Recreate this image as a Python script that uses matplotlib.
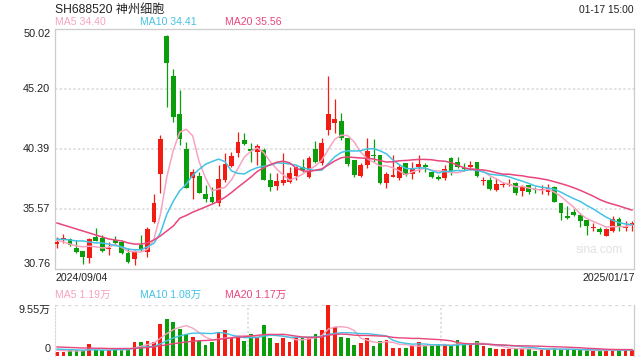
"""
SH688520 daily K-line with MA5/MA10/MA20 and volume panel.
"""

import numpy as np
import pandas as pd
import matplotlib
matplotlib.use("Agg")
import matplotlib.pyplot as plt

# ── Config ──────────────────────────────────────────────────────────────
RED = "#f21c12"
GREEN = "#0b9e0b"
MA5_C = "#f7a3c1"
MA10_C = "#43c3e4"
MA20_C = "#e8467c"
GRID = "#d9d9d9"
BORDER = "#cccccc"
TEXT = "#222222"

plt.rcParams["font.family"] = ["Liberation Sans", "Noto Sans CJK SC", "DejaVu Sans"]

# ── Data ────────────────────────────────────────────────────────────────
title = "SH688520 神州细胞"
stamp = "01-17 15:00"
date_first = "2024/09/04"
date_last = "2025/01/17"

opens = [32.76, 33.09, 33.17, 32.44, 32.20, 31.64, 33.33, 33.25, 32.36, 33.09,
         32.93, 32.04, 31.56, 32.68, 32.12, 34.53, 38.38, 49.46, 46.25, 43.20,
         40.39, 38.06, 38.22, 36.78, 36.54, 36.06, 37.90, 39.03, 40.07, 41.11,
         40.39, 40.15, 40.31, 37.90, 37.42, 37.66, 37.74, 38.22, 38.94, 38.14,
         40.39, 39.27, 41.91, 42.48, 42.64, 41.27, 39.51, 38.22, 39.11, 39.91,
         39.91, 37.66, 38.14, 38.06, 39.27, 38.38, 38.94, 39.11, 38.54, 38.14,
         38.06, 39.67, 39.35, 38.86, 38.94, 39.35, 37.82, 37.90, 37.10, 37.50,
         37.50, 37.66, 37.02, 37.50, 37.18, 37.10, 36.94, 37.34, 36.06, 35.01,
         35.33, 35.09, 34.69, 34.05, 33.97, 33.41, 33.81, 34.77, 34.05, 34.29]
highs = [33.33, 33.57, 33.25, 33.09, 32.20, 33.25, 34.05, 33.49, 32.93, 33.41,
         33.09, 32.44, 32.28, 33.49, 34.13, 36.78, 41.51, 49.54, 46.81, 45.12,
         40.95, 38.78, 38.54, 37.50, 37.34, 39.11, 40.07, 40.15, 41.75, 41.67,
         40.87, 40.79, 40.47, 38.46, 38.46, 40.07, 38.94, 39.03, 39.59, 39.83,
         41.03, 41.27, 46.25, 44.40, 43.28, 41.27, 39.51, 39.27, 41.27, 41.19,
         39.91, 38.54, 39.91, 39.11, 39.27, 39.35, 39.91, 39.27, 38.54, 38.30,
         39.11, 39.75, 39.75, 39.27, 39.43, 39.35, 38.14, 38.14, 38.06, 37.74,
         37.98, 37.74, 37.50, 37.50, 37.34, 37.50, 37.58, 37.42, 36.06, 35.81,
         35.57, 35.25, 34.69, 34.45, 34.13, 34.05, 35.01, 34.93, 34.61, 34.61]
lows = [32.44, 32.85, 32.60, 32.04, 31.16, 31.24, 33.01, 32.12, 31.88, 32.68,
        31.96, 31.24, 31.08, 32.20, 31.72, 34.45, 36.86, 43.76, 42.56, 40.71,
        37.26, 36.38, 36.86, 36.14, 36.06, 35.81, 37.74, 38.94, 39.75, 40.71,
        39.35, 39.11, 37.90, 37.02, 37.10, 37.50, 37.66, 37.90, 38.54, 38.06,
        39.27, 39.11, 41.51, 41.67, 41.11, 39.03, 38.14, 38.14, 38.86, 39.35,
        37.58, 37.26, 38.14, 37.90, 38.22, 37.98, 38.54, 38.54, 38.06, 37.90,
        37.90, 38.30, 38.86, 38.62, 38.70, 38.14, 37.50, 37.10, 37.02, 37.34,
        37.42, 36.70, 36.62, 36.78, 36.86, 36.78, 36.70, 36.14, 34.69, 34.77,
        35.01, 34.13, 33.49, 33.81, 33.57, 33.41, 33.73, 33.81, 33.81, 33.81]
closes = [32.93, 33.25, 32.68, 32.12, 31.72, 33.17, 33.01, 32.20, 32.44, 32.85,
          32.04, 31.32, 32.12, 32.28, 33.97, 36.06, 41.19, 47.29, 42.96, 41.19,
          37.26, 38.54, 36.86, 36.38, 36.14, 37.98, 39.19, 39.83, 40.95, 40.79,
          40.23, 40.63, 37.90, 37.34, 37.82, 37.90, 38.46, 38.94, 38.70, 39.67,
          39.35, 40.87, 43.20, 42.80, 41.27, 39.19, 38.30, 39.11, 40.23, 39.83,
          37.66, 38.38, 38.30, 38.94, 38.30, 38.86, 39.19, 38.94, 38.14, 37.98,
          38.78, 38.62, 38.94, 38.78, 39.11, 38.22, 37.90, 37.18, 37.58, 37.58,
          37.58, 36.86, 37.34, 36.94, 37.10, 37.18, 37.26, 36.14, 35.25, 34.85,
          35.09, 34.61, 34.21, 34.13, 33.73, 33.97, 34.77, 34.21, 34.13, 34.45]
# volume in 万 (10k) shares
volumes = [0.83, 0.83, 1.08, 1.08, 1.08, 2.23, 1.15, 1.15, 1.15, 1.15,
           1.15, 1.40, 2.67, 2.67, 2.87, 2.55, 5.92, 7.00, 6.37, 4.97,
           4.14, 3.63, 2.87, 2.04, 2.55, 4.58, 4.78, 3.37, 3.63, 2.87,
           4.14, 3.63, 5.73, 3.37, 2.36, 3.37, 2.55, 3.50, 3.37, 3.37,
           4.14, 4.78, 9.55, 5.35, 3.63, 3.37, 2.04, 2.36, 3.37, 1.91,
           2.87, 2.99, 1.59, 1.59, 1.59, 1.91, 2.55, 2.04, 1.91, 2.04,
           2.23, 2.04, 2.99, 2.04, 2.04, 2.87, 1.91, 1.59, 1.27, 1.27,
           1.40, 1.40, 1.40, 1.27, 0.95, 1.27, 1.27, 1.59, 1.15, 1.15,
           1.08, 1.08, 1.08, 0.95, 0.95, 1.20, 1.25, 1.15, 1.20, 1.15]

# MA values at the left edge (they include days before the visible window)
ma5_head = [33.09, 32.93, 32.76, 32.60]
ma10_head = [33.17, 33.13, 33.09, 33.01, 33.01, 32.93, 32.85, 32.85, 32.76]
ma20_head = [34.45, 34.29, 34.13, 33.97, 33.81, 33.65, 33.49, 33.33, 33.17, 33.09,
             33.01, 32.85, 32.76, 32.76, 32.85, 33.09, 33.41, 33.81, 34.21]
vma5_head = [1.10, 1.00, 0.95, 0.95]
vma10_head = [1.30, 1.25, 1.20, 1.15, 1.10, 1.15, 1.15, 1.10, 1.10]
vma20_head = [1.70, 1.65, 1.60, 1.55, 1.50, 1.50, 1.45, 1.45, 1.40, 1.40,
              1.40, 1.40, 1.45, 1.50, 1.60, 1.70, 1.90, 2.10, 2.30]

price_ticks = [30.76, 35.57, 40.39, 45.20, 50.02]
vol_max = 9.55
ma_labels = ["MA5 34.40", "MA10 34.41", "MA20 35.56"]
vma_labels = ["MA5 1.19万", "MA10 1.08万", "MA20 1.17万"]


def moving_avg(values, n, head):
    s = pd.Series(values, dtype=float).rolling(n).mean()
    s.iloc[:len(head)] = head
    return s.values


o = np.array(opens)
c = np.array(closes)
x = np.arange(len(o))
up = c >= o
colors = np.where(up, RED, GREEN)

# ── Figure ──────────────────────────────────────────────────────────────
W, H = 640, 360
fig = plt.figure(figsize=(6.4, 3.6), dpi=100)
fig.patch.set_facecolor("white")


def fx(px):
    return px / W


def fy(py):
    return 1 - py / H


ax = fig.add_axes([fx(55), fy(269), fx(634) - fx(55), fy(29) - fy(269)])
vax = fig.add_axes([fx(55), fy(356), fx(634) - fx(55), fy(305) - fy(356)])

# ── Price panel ─────────────────────────────────────────────────────────
for t in price_ticks[1:-1]:
    ax.axhline(t, color=GRID, lw=1.1, ls=(0, (1.5, 1.5)), zorder=0)

body_lo = np.minimum(o, c)
body_h = np.maximum(np.abs(c - o), 0.08)
ax.vlines(x, lows, highs, colors=colors, lw=0.9, zorder=2)
ax.bar(x, body_h, bottom=body_lo, width=0.74, color=colors, linewidth=0, zorder=3)

ax.plot(x, moving_avg(closes, 5, ma5_head), color=MA5_C, lw=1.1, zorder=4)
ax.plot(x, moving_avg(closes, 10, ma10_head), color=MA10_C, lw=1.1, zorder=4)
ax.plot(x, moving_avg(closes, 20, ma20_head), color=MA20_C, lw=1.1, zorder=4)

ax.set_xlim(-0.31, len(x) - 1 + 0.31)
ax.set_ylim(price_ticks[0], price_ticks[-1])
ax.set_xticks([])
ax.set_yticks([])
for s in ax.spines.values():
    s.set_color(BORDER)
    s.set_linewidth(0.9)

ytr = ax.get_yaxis_transform()
for i, t in enumerate(price_ticks):
    va = "bottom" if i == 0 else ("top" if i == len(price_ticks) - 1 else "center")
    ax.text(-0.008, t, f"{t:.2f}", transform=ytr, ha="right", va=va,
            fontsize=7.8, color=TEXT)

ax.text(0.98, 0.055, "sina.com", transform=ax.transAxes, ha="right", va="bottom",
        fontsize=8.5, color="#e2e2e2")

# header texts
fig.text(fx(55), fy(10), title, ha="left", va="center", fontsize=8.7, color=TEXT)
fig.text(fx(634), fy(10), stamp, ha="right", va="center", fontsize=7.4, color=TEXT)
for lab, col, px in zip(ma_labels, [MA5_C, MA10_C, MA20_C], [55, 140, 225]):
    fig.text(fx(px), fy(22), lab, ha="left", va="center", fontsize=7.6, color=col)

# date labels
fig.text(fx(55), fy(278), date_first, ha="left", va="center", fontsize=7.6, color=TEXT)
fig.text(fx(635), fy(278), date_last, ha="right", va="center", fontsize=7.6, color=TEXT)

# ── Volume panel ────────────────────────────────────────────────────────
vax.bar(x, volumes, width=0.58, color=colors, linewidth=0, zorder=2)
vax.plot(x, moving_avg(volumes, 5, vma5_head), color=MA5_C, lw=1.0, zorder=3)
vax.plot(x, moving_avg(volumes, 10, vma10_head), color=MA10_C, lw=1.0, zorder=3)
vax.plot(x, moving_avg(volumes, 20, vma20_head), color=MA20_C, lw=1.0, zorder=3)

vax.set_xlim(ax.get_xlim())
vax.set_ylim(0, vol_max)
vax.set_xticks([])
vax.set_yticks([])
x0, x1 = vax.get_xlim()
for frac in (1 / 3, 2 / 3):
    vax.axvline(x0 + (x1 - x0) * frac, color=GRID, lw=1.1, ls=(0, (1.5, 1.5)), zorder=0)
vax.axhline(vol_max, color=GRID, lw=1.6, ls=(0, (1.5, 1.5)), zorder=0)
vax.spines["top"].set_visible(False)
vax.spines["bottom"].set_visible(False)
vax.spines["left"].set_color(GRID)
vax.spines["left"].set_linestyle((0, (1.5, 1.5)))
vax.spines["right"].set_color(BORDER)
vax.spines["right"].set_linewidth(0.9)

vtr = vax.get_yaxis_transform()
vax.text(-0.008, vol_max, f"{vol_max:.2f}万", transform=vtr, ha="right", va="top",
         fontsize=7.8, color=TEXT)
vax.text(-0.008, 0.4, "0", transform=vtr, ha="right", va="bottom",
         fontsize=7.8, color=TEXT)

for lab, col, px in zip(vma_labels, [MA5_C, MA10_C, MA20_C], [55, 140, 225]):
    fig.text(fx(px), fy(295), lab, ha="left", va="center", fontsize=7.6, color=col)

fig.savefig("out.png", dpi=100)
print("saved out.png")
